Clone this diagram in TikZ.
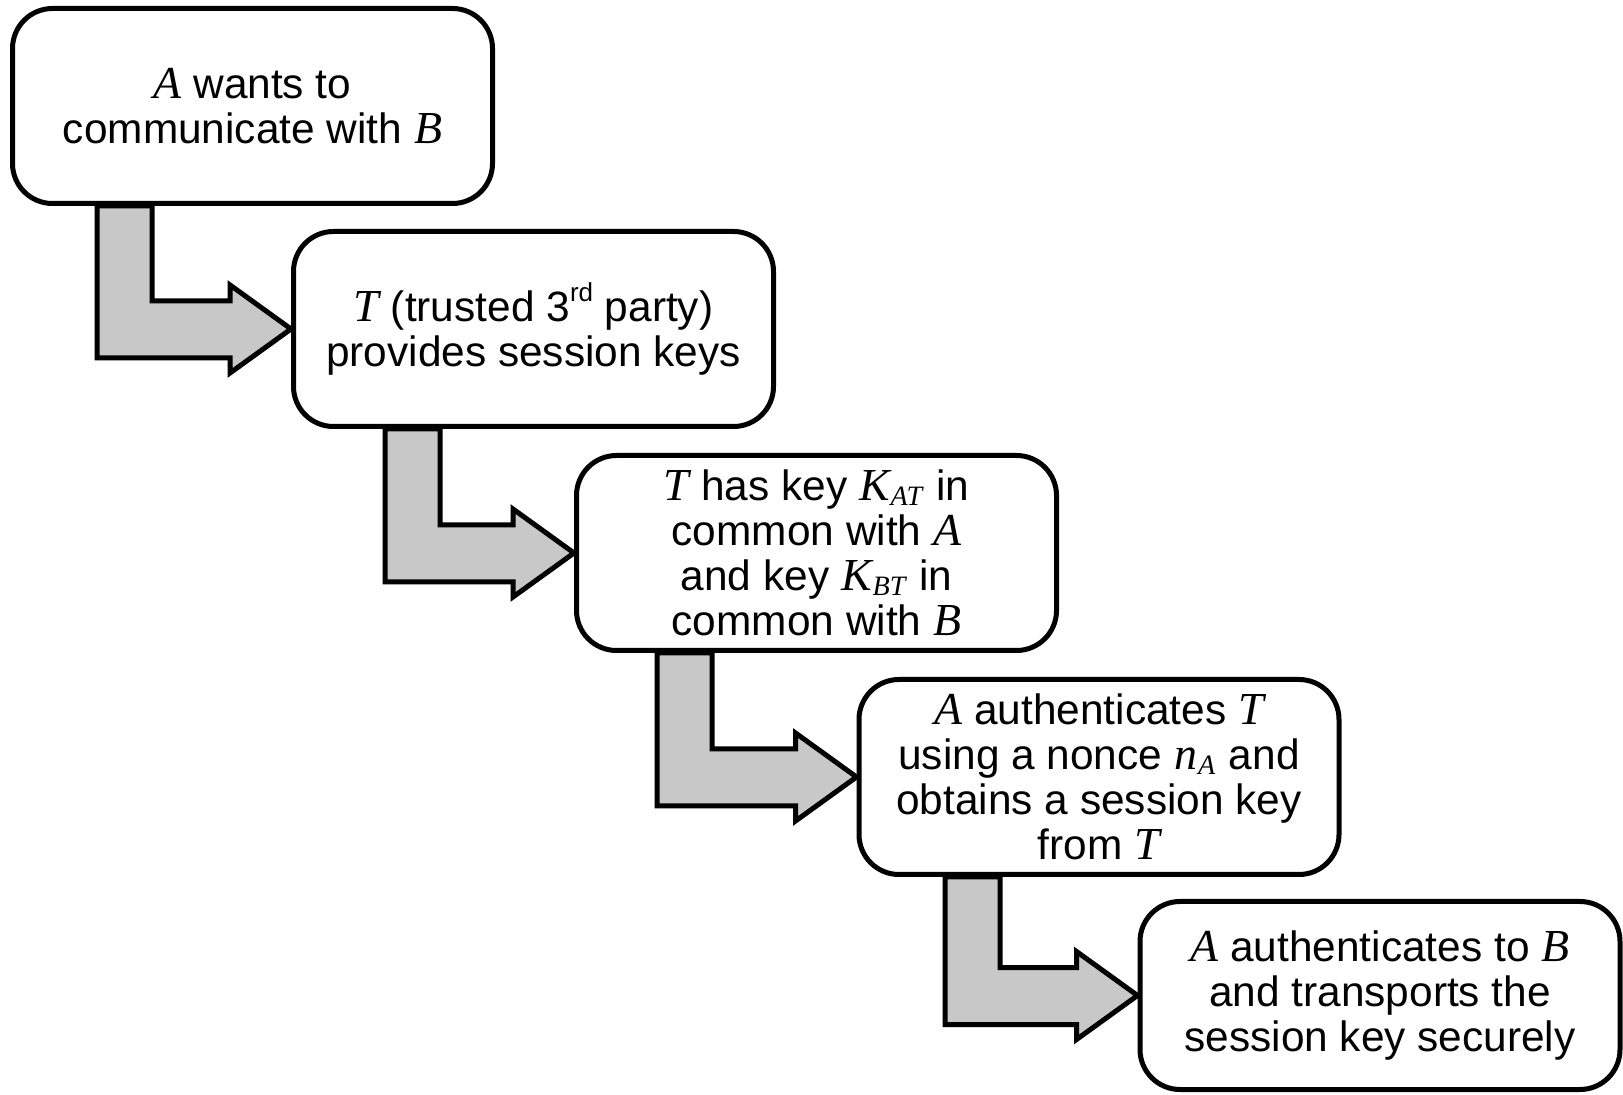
\documentclass[tikz,border=0pt]{standalone}
\usepackage{fontspec}
\setmainfont{Liberation Sans}
\newfontfamily\mathserif{Liberation Serif}[ItalicFont={Liberation Serif Italic},Scale=1.08]
\usetikzlibrary{calc,backgrounds}
\newcommand\mv[1]{{\mathserif\itshape #1}}
\newcommand\sbs[1]{\kern0.5pt\relax\raisebox{-0.12em}{\fontsize{13pt}{13pt}\selectfont\mathserif\itshape #1}\kern1pt\relax}
\newcommand\sps[1]{\raisebox{0.45em}{\fontsize{13pt}{13pt}\selectfont #1}}
\definecolor{arrowgray}{RGB}{200,200,200}
\tikzset{
  stepbox/.style={draw, line width=2.5pt, rounded corners=20pt, fill=white,
    minimum width=240pt, minimum height=97.5pt, inner sep=0pt, align=center,
    font=\fontsize{21.2pt}{22.5pt}\selectfont},
  bentarrow/.style={draw, line width=2.5pt, fill=arrowgray, line join=miter},
}
\newcommand\bendarrow[3]{%
  \coordinate (p0) at (#3,0 |- #1.south);
  \coordinate (tp) at (#2.west);
  \coordinate (lb) at (p0 |- tp);
  \draw[bentarrow] (p0) -- ($(lb)+(0,29)$) -- ($(tp)+(-61,29)$) -- ($(tp)+(-61,44)$)
    -- (tp) -- ($(tp)+(-61,-44)$) -- ($(tp)+(-61,-28)$) -- ($(lb)+(55,-28)$)
    -- ($(p0)+(55,0)$) -- cycle;
}
\begin{document}
\begin{tikzpicture}[x=0.5pt,y=-0.5pt]
\useasboundingbox (0,0) rectangle (1623,1095);
\node[stepbox] (s1) at (252.5,106) {\mv{A} wants to\\communicate with \mv{B}};
\node[stepbox] (s2) at (533.5,329) {\mv{T} (trusted 3\sps{rd} party)\\provides session keys};
\node[stepbox] (s3) at (816.5,553) {\mv{T} has key \mv{K}\sbs{AT} in\\common with \mv{A}\\and key \mv{K}\sbs{BT} in\\common with \mv{B}};
\node[stepbox] (s4) at (1099,777) {\mv{A} authenticates \mv{T}\\using a nonce \mv{n}\sbs{A} and\\obtains a session key\\from \mv{T}};
\node[stepbox, minimum height=94pt] (s5) at (1380,995.5) {\mv{A} authenticates to \mv{B}\\and transports the\\session key securely};
\begin{pgfonlayer}{background}
\bendarrow{s1}{s2}{97}
\bendarrow{s2}{s3}{385}
\bendarrow{s3}{s4}{657}
\bendarrow{s4}{s5}{945}
\end{pgfonlayer}
\end{tikzpicture}
\end{document}
